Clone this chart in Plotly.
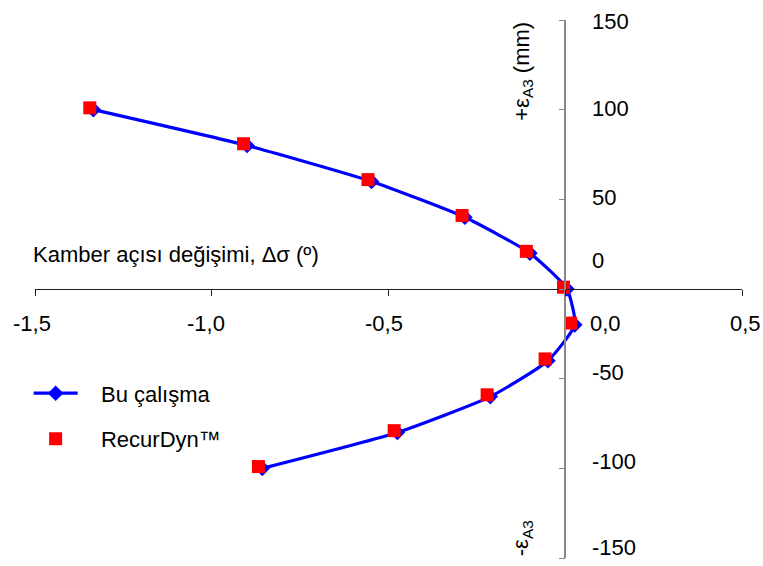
import plotly.graph_objects as go

# Data
eps_blue = [100, 80, 60, 40, 20, 0, -20, -40, -60, -80, -100]
dsig_blue = [-1.335, -0.900, -0.548, -0.284, -0.100, 0.005, 0.027, -0.049, -0.212, -0.475, -0.857]
eps_red = [101, 81, 61, 41, 21, 1, -19, -39, -59, -79, -99]
dsig_red = [-1.345, -0.910, -0.558, -0.292, -0.110, -0.005, 0.015, -0.057, -0.221, -0.484, -0.868]
series_names = ["Bu çalışma", "RecurDyn™"]

x_ticks = [-1.5, -1.0, -0.5, 0.0, 0.5]
x_ticktext = ["-1,5", "-1,0", "-0,5", "0,0", "0,5"]
y_ticks = [150, 100, 50, 0, -50, -100, -150]
y_ticktext = ["150", "100", "50", "0", "-50", "-100", "-150"]

# per-label nudges (px), as in the original drawing
x_label_dx = [-3, -6, -5, 40, 3]
y_label_dy = [-1, 1, 2, 29, 6, 7, 11]

FONT = "Liberation Sans, Arial, sans-serif"
FS = 22
PAD = "\u00a0\u00a0\u00a0"  # gap between legend symbol and text

fig = go.Figure()
fig.add_trace(go.Scatter(
    x=dsig_blue, y=eps_blue, name=PAD + series_names[0], mode="lines+markers",
    line=dict(color="#0000FF", width=3.2, shape="spline", smoothing=0.5),
    marker=dict(symbol="diamond", size=12, color="#0000FF"),
    legendgroup="a",
))
fig.add_trace(go.Scatter(
    x=dsig_red, y=eps_red, name=PAD + series_names[1], mode="markers",
    marker=dict(symbol="square", size=13, color="#FF0000"),
    legendgroup="b",
))

annotations = []
for v, t, dx in zip(x_ticks, x_ticktext, x_label_dx):
    annotations.append(dict(x=v, y=0, xref="x", yref="y", text=t, showarrow=False,
                            xanchor="center", yanchor="middle", xshift=dx, yshift=-34,
                            font=dict(family=FONT, size=FS, color="black")))
for v, t, dy in zip(y_ticks, y_ticktext, y_label_dy):
    annotations.append(dict(x=0, y=v, xref="x", yref="y", text=t, showarrow=False,
                            xanchor="left", yanchor="middle", xshift=25, yshift=dy,
                            font=dict(family=FONT, size=FS, color="black")))

annotations += [
    dict(x=-1.5, y=0, xref="x", yref="y", text="Kamber açısı değişimi, Δσ (º)",
         showarrow=False, xanchor="left", yanchor="middle", xshift=-4, yshift=35,
         font=dict(family=FONT, size=FS, color="black")),
    dict(x=0, y=150, xref="x", yref="y", text="+ε<sub>A3</sub> (mm)", textangle=-90,
         showarrow=False, xanchor="right", yanchor="top", xshift=-27, yshift=0,
         font=dict(family=FONT, size=FS, color="black")),
    dict(x=0, y=-150, xref="x", yref="y", text="-ε<sub>A3</sub>", textangle=-90,
         showarrow=False, xanchor="right", yanchor="bottom", xshift=-27, yshift=0,
         font=dict(family=FONT, size=FS, color="black")),
]

fig.update_layout(
    width=763, height=566, autosize=False,
    margin=dict(l=35, r=21, t=20, b=8),
    paper_bgcolor="white", plot_bgcolor="white",
    font=dict(family=FONT, size=FS, color="black"),
    showlegend=True,
    legend=dict(x=-0.009, y=0.345, xanchor="left", yanchor="top",
                bgcolor="rgba(0,0,0,0)", tracegroupgap=14, itemwidth=44,
                font=dict(family=FONT, size=FS, color="black")),
    annotations=annotations,
    xaxis=dict(range=[-1.5, 0.5], tickvals=x_ticks, showticklabels=False,
               showgrid=False, zeroline=False, showline=True, linecolor="#202020",
               linewidth=1, ticks="outside", ticklen=6, tickcolor="#202020",
               anchor="free", position=0.5, side="bottom"),
    yaxis=dict(range=[-150, 150], tickvals=y_ticks, showticklabels=False,
               showgrid=False, zeroline=False, showline=True, linecolor="#888888",
               linewidth=1.5, ticks="outside", ticklen=6, tickcolor="#888888",
               anchor="free", position=0.75, side="left"),
)

fig.write_html("out.html")
